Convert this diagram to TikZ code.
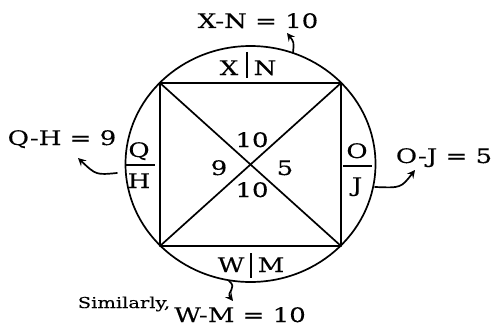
\documentclass[tikz,border=0pt]{standalone}
\usepackage{fontspec}
\setmainfont{DejaVu Serif}[FakeStretch=1.3,FakeBold=0.15]
\usetikzlibrary{arrows.meta,calc}

\begin{document}
\begin{tikzpicture}[x=1pt, y=-1pt, >={Stealth[length=8pt,width=8pt,inset=3pt]},
  line cap=round, line join=round, line width=1.7pt,
  lbl/.style={font=\fontsize{20}{24}\selectfont, inner sep=0pt, anchor=base},
  note/.style={font=\fontsize{15}{18}\selectfont, inner sep=0pt, anchor=base},
  sep/.style={line width=2.8pt, line cap=butt}]

\useasboundingbox (0,0) rectangle (495,329);

% ----------------------------
% PARAMETERS
% ----------------------------
\def\cx{250.5}   % centre of the round table
\def\cy{164}
\def\rx{125}     % radii
\def\ry{118}

% ----------------------------
% TABLE AND SQUARE
% ----------------------------
\draw (\cx,\cy) ellipse [x radius=\rx, y radius=\ry];

\coordinate (TL) at (160,83);
\coordinate (TR) at (341,83);
\coordinate (BL) at (160,246);
\coordinate (BR) at (341,246);

\draw (TL) -- (TR) -- (BR) -- (BL) -- cycle;
\draw (TL) -- (BR);
\draw (TR) -- (BL);

% ----------------------------
% CENTRE VALUES
% ----------------------------
\node[lbl] (top) at (252,147) {10};
\node[lbl] (lft) at (219,175) {9};
\node[lbl] (rgt) at (285,175) {5};
\node[lbl] (bot) at (252,197) {10};

% ----------------------------
% SIDE PAIRS
% ----------------------------
% top
\node[lbl] (X) at (229,75) {X};
\node[lbl] (N) at (265,75) {N};
\draw[sep] (247,52) -- (247,78);

% bottom
\node[lbl] (W) at (231,272) {W};
\node[lbl] (M) at (271,272) {M};
\draw[sep] (251,253) -- (251,278);

% left
\node[lbl] (Q) at (139,157) {Q};
\node[lbl] (H) at (139,188) {H};
\draw[sep] (125,165) -- (155,165);

% right
\node[lbl] (O) at (357,158) {O};
\node[lbl] (J) at (357,192) {J};
\draw[sep] (343,166) -- (372,166);

% ----------------------------
% DIFFERENCES
% ----------------------------
\node[lbl] (XN) at (258,28) {X-N = 10};
\node[lbl] (QH) at (62,145) {Q-H = 9};
\node[lbl] (OJ) at (444,163) {O-J = 5};
\node[lbl] (WM) at (240,322) {W-M = 10};
\node[note] (sim) at (124,308) {Similarly,};

% ----------------------------
% ARROWS
% ----------------------------
\coordinate (aN) at (293,53);
\coordinate (aN2) at (287,33);
\draw[->] (aN) .. controls (294,42) .. (aN2);

\coordinate (aQ) at (117,173);
\coordinate (aQ2) at (78,158);
\draw[->] (aQ) .. controls (96,175) .. (aQ2);

\coordinate (aJ) at (375,187);
\coordinate (aJ2) at (415,170);
\draw[->] (aJ) .. controls (401,188) .. (aJ2);

\coordinate (aW) at (229,281);
\coordinate (aW2) at (233,301);
\draw[->] (aW) .. controls (238,288) and (226,292) .. (aW2);

\end{tikzpicture}
\end{document}
